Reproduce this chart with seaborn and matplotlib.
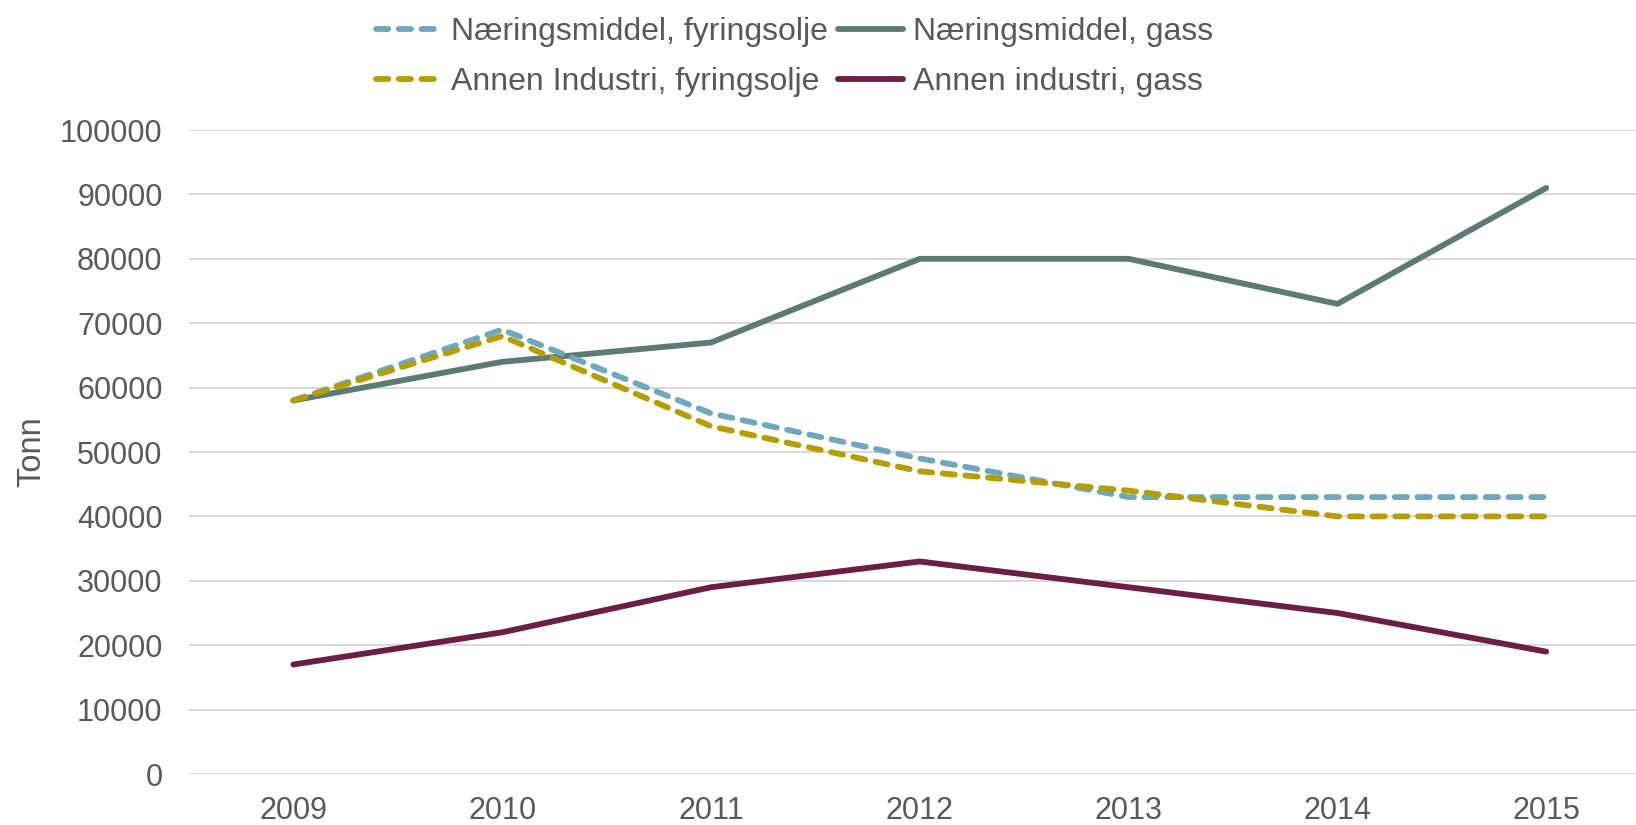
import pandas as pd
import numpy as np
import matplotlib
matplotlib.use("Agg")
import matplotlib.pyplot as plt
import seaborn as sns
from matplotlib.lines import Line2D

# data
years = [2009, 2010, 2011, 2012, 2013, 2014, 2015]
naering_olje = [58000, 69000, 56000, 49000, 43000, 43000, 43000]
naering_gass = [58000, 64000, 67000, 80000, 80000, 73000, 91000]
annen_olje = [58000, 68000, 54000, 47000, 44000, 40000, 40000]
annen_gass = [17000, 22000, 29000, 33000, 29000, 25000, 19000]

series = {
    "Næringsmiddel, fyringsolje": naering_olje,
    "Annen Industri, fyringsolje": annen_olje,
    "Næringsmiddel, gass": naering_gass,
    "Annen industri, gass": annen_gass,
}
colors = {
    "Næringsmiddel, fyringsolje": "#6FA8BD",
    "Annen Industri, fyringsolje": "#B59E00",
    "Næringsmiddel, gass": "#5C7B75",
    "Annen industri, gass": "#6B1F45",
}
dashes = {
    "Næringsmiddel, fyringsolje": (2.1, 1.8),
    "Annen Industri, fyringsolje": (2.1, 1.8),
    "Næringsmiddel, gass": "",
    "Annen industri, gass": "",
}

rows = []
for name, vals in series.items():
    for i, v in enumerate(vals):
        rows.append({"pos": i, "year": years[i], "serie": name, "verdi": v})
df = pd.DataFrame(rows)

sns.set_style("white")
plt.rcParams['font.family'] = ['Liberation Sans', 'DejaVu Sans']
txt = "#595959"
lw = 4.2

fig = plt.figure(figsize=(16.36, 8.25), dpi=100)
ax = fig.add_axes([189 / 1636, 1 - 774 / 825, 1 - 189 / 1636, (774 - 130) / 825])

# gas lines first, dashed oil lines on top like the reference
order = ["Næringsmiddel, gass", "Annen industri, gass",
         "Næringsmiddel, fyringsolje", "Annen Industri, fyringsolje"]
sns.lineplot(data=df, x="pos", y="verdi", hue="serie", style="serie",
             hue_order=order, style_order=order,
             palette=colors, dashes=dashes, linewidth=lw, ax=ax, legend=False)
for ln in ax.get_lines():
    ln.set_dash_capstyle("round")
    ln.set_solid_capstyle("round")

ax.set_xlim(-0.5, 6.43)
ax.set_ylim(0, 100000)
ax.set_yticks(np.arange(0, 100001, 10000))
ax.set_xticks(range(len(years)))
ax.set_xticklabels([str(y) for y in years])
ax.yaxis.grid(True, color="#D9D9D9", linewidth=1.5)
ax.set_axisbelow(True)
for s in ax.spines.values():
    s.set_visible(False)
ax.tick_params(axis="both", length=0, labelsize=22, colors=txt)
ax.tick_params(axis="y", pad=19)
ax.tick_params(axis="x", pad=15.5)
ax.set_xlabel("")
ax.set_ylabel("Tonn", fontsize=23.5, color=txt, labelpad=9)

# legend, two columns at top
leg_names = ["Næringsmiddel, fyringsolje", "Annen Industri, fyringsolje",
             "Næringsmiddel, gass", "Annen industri, gass"]
handles = []
for n in leg_names:
    if dashes[n]:
        h = Line2D([], [], color=colors[n], linewidth=lw, linestyle=(0, dashes[n]),
                   dash_capstyle="round")
    else:
        h = Line2D([], [], color=colors[n], linewidth=lw, solid_capstyle="round")
    handles.append(h)
fig.legend(handles, leg_names, loc="upper left", bbox_to_anchor=(357 / 1636, 1.003),
           ncol=2, frameon=False, fontsize=23, labelcolor=txt,
           handlelength=2.05, handletextpad=0.3, columnspacing=0.3,
           labelspacing=0.64, borderaxespad=0.2)

fig.savefig("out.png", dpi=100)
